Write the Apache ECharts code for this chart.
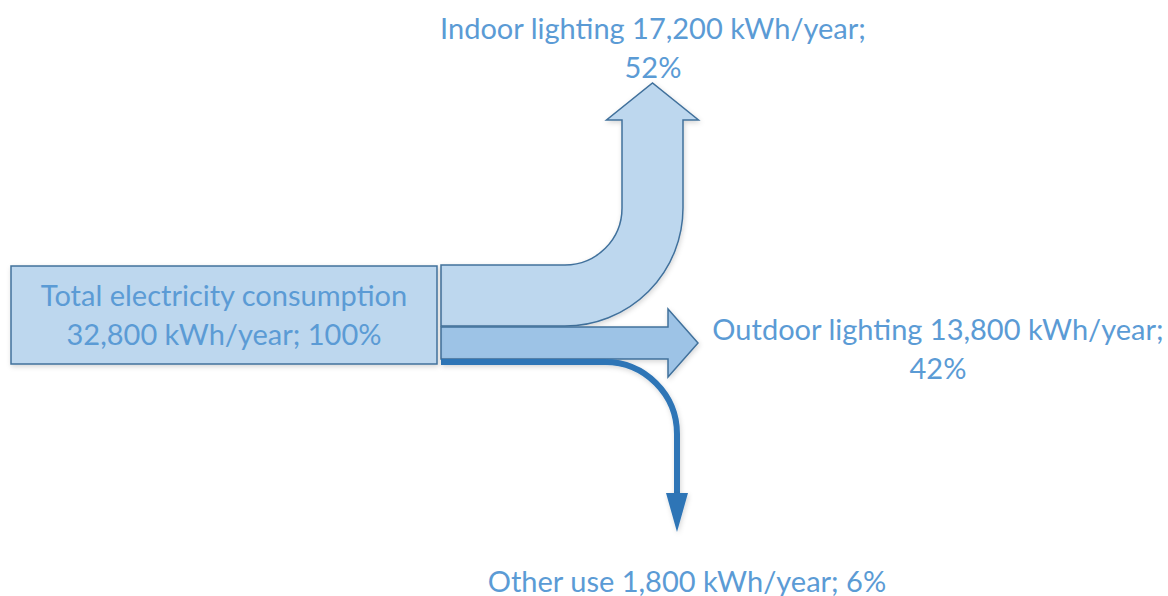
<!DOCTYPE html>
<html>
<head>
<meta charset="utf-8">
<script src="https://cdn.jsdelivr.net/npm/echarts@6/dist/echarts.min.js"></script>
<style>
html, body { margin: 0; padding: 0; background: #fff; }
#main { width: 1168px; height: 596px; }
</style>
</head>
<body>
<div id="main"></div>
<script>
// data
var sourceName = 'Total electricity consumption';
var sourceValue = 32800;
var sourcePercent = 100;
var flowNames = ['Indoor lighting', 'Outdoor lighting', 'Other use'];
var flowValues = [17200, 13800, 1800];
var flowPercents = [52, 42, 6];
var unitLabel = 'kWh/year';

// drawing layout (canvas units of the hidden 1168x596 grid)
var boxLayout = { x: 11, y: 266, w: 426, h: 98, labelX: 224, labelY: 314 };
var flowLayout = [
  { kind: 'up', x0: 441, top: 265, band: 61, cx: 565, r: 57, headY: 120, headHalf: 46, tipY: 83, labelX: 653, labelY: 47, wrap: true },
  { kind: 'right', x0: 441, top: 327, band: 32, shaftEnd: 668, headHalf: 34, tip: 698, labelX: 938, labelY: 348, wrap: true },
  { kind: 'down', x0: 441, top: 362, band: 6, cx: 605, r: 72, headY: 493, headHalf: 11, tipY: 532, labelX: 687, labelY: 580, wrap: false }
];
var flowFill = ['#bdd7ee', '#9dc3e6', '#2e75b6'];
var lineColor = '#41719c';
var textColor = '#5b9bd5';
var fontFamily = 'Lato, "Open Sans", sans-serif';
var fontSize = 29;

var shadow = { shadowBlur: 5, shadowOffsetX: 1, shadowOffsetY: 2, shadowColor: 'rgba(0,0,0,0.16)' };

function fmt(v) { return echarts.format.addCommas(v); }

function makeText(txt, x, y) {
  return {
    type: 'text',
    style: {
      text: txt, x: x, y: y, fill: textColor,
      fontSize: fontSize, fontFamily: fontFamily,
      align: 'center', verticalAlign: 'middle', lineHeight: 39
    }
  };
}

function renderSource(params, api) {
  var a = api.coord([boxLayout.x, boxLayout.y]);
  var s = api.size([boxLayout.w, boxLayout.h]);
  var c = api.coord([boxLayout.labelX, boxLayout.labelY]);
  var txt = sourceName + '\n' + fmt(api.value(0)) + ' ' + unitLabel + '; ' + api.value(1) + '%';
  return {
    type: 'group',
    children: [
      { type: 'rect', shape: { x: a[0], y: a[1], width: s[0], height: s[1] },
        style: Object.assign({ fill: '#bdd7ee', stroke: lineColor, lineWidth: 1.5 }, shadow) },
      makeText(txt, c[0], c[1])
    ]
  };
}

function renderFlow(params, api) {
  var i = params.dataIndex;
  var L = flowLayout[i];
  var P = function (x, y) { var c = api.coord([x, y]); return c[0].toFixed(1) + ' ' + c[1].toFixed(1); };
  var R = function (r) { return Math.abs(api.size([r, 0])[0]).toFixed(1); };
  var b = L.band, children = [];
  var d;
  if (L.kind === 'up') {
    var ro = L.r + b, cy = L.top - L.r, xi = L.cx + L.r, xo = L.cx + ro, mid = (xi + xo) / 2;
    d = 'M' + P(L.x0, L.top) + ' L' + P(L.cx, L.top) +
      ' A' + R(L.r) + ' ' + R(L.r) + ' 0 0 0 ' + P(xi, cy) +
      ' L' + P(xi, L.headY) + ' L' + P(mid - L.headHalf, L.headY) + ' L' + P(mid, L.tipY) +
      ' L' + P(mid + L.headHalf, L.headY) + ' L' + P(xo, L.headY) + ' L' + P(xo, cy) +
      ' A' + R(ro) + ' ' + R(ro) + ' 0 0 1 ' + P(L.cx, L.top + b) +
      ' L' + P(L.x0, L.top + b) + ' Z';
    children.push({ type: 'path', shape: { pathData: d },
      style: Object.assign({ fill: flowFill[i], stroke: lineColor, lineWidth: 1.5 }, shadow) });
  } else if (L.kind === 'right') {
    var m = L.top + b / 2;
    d = 'M' + P(L.x0, L.top) + ' L' + P(L.shaftEnd, L.top) + ' L' + P(L.shaftEnd, m - L.headHalf) +
      ' L' + P(L.tip, m) + ' L' + P(L.shaftEnd, m + L.headHalf) + ' L' + P(L.shaftEnd, L.top + b) +
      ' L' + P(L.x0, L.top + b) + ' Z';
    children.push({ type: 'path', shape: { pathData: d },
      style: Object.assign({ fill: flowFill[i], stroke: lineColor, lineWidth: 1.5 }, shadow) });
  } else {
    var xe = L.cx + L.r;
    d = 'M' + P(L.x0, L.top) + ' L' + P(L.cx, L.top) +
      ' A' + R(L.r) + ' ' + R(L.r) + ' 0 0 1 ' + P(xe, L.top + L.r) +
      ' L' + P(xe, L.headY + 2);
    children.push({ type: 'path', shape: { pathData: d },
      style: Object.assign({ fill: null, stroke: flowFill[i], lineWidth: b }, shadow) });
    var h = 'M' + P(xe - L.headHalf, L.headY) + ' L' + P(xe + L.headHalf, L.headY) + ' L' + P(xe, L.tipY) + ' Z';
    children.push({ type: 'path', shape: { pathData: h },
      style: Object.assign({ fill: flowFill[i], stroke: null }, shadow) });
  }
  var txt = flowNames[i] + ' ' + fmt(api.value(0)) + ' ' + unitLabel + ';' +
    (L.wrap ? '\n' : ' ') + api.value(1) + '%';
  var c = api.coord([L.labelX, L.labelY]);
  children.push(makeText(txt, c[0], c[1]));
  return { type: 'group', children: children };
}

var flowData = [];
for (var i = 0; i < flowNames.length; i++) {
  flowData.push({ name: flowNames[i], value: [flowValues[i], flowPercents[i]] });
}

var myChart = echarts.init(document.getElementById('main'), null, { renderer: 'svg' });
var option = {
  animation: false,
  grid: { left: 0, right: 0, top: 0, bottom: 0 },
  xAxis: { type: 'value', min: 0, max: 1168, show: false },
  yAxis: { type: 'value', min: 0, max: 596, inverse: true, show: false },
  series: [
    {
      name: 'flows', type: 'custom', coordinateSystem: 'cartesian2d',
      encode: { x: -1, y: -1 },
      renderItem: renderFlow, data: flowData, z: 1
    },
    {
      name: 'source', type: 'custom', coordinateSystem: 'cartesian2d',
      encode: { x: -1, y: -1 },
      renderItem: renderSource,
      data: [{ name: sourceName, value: [sourceValue, sourcePercent] }], z: 2
    }
  ]
};
myChart.setOption(option);
</script>
</body>
</html>
